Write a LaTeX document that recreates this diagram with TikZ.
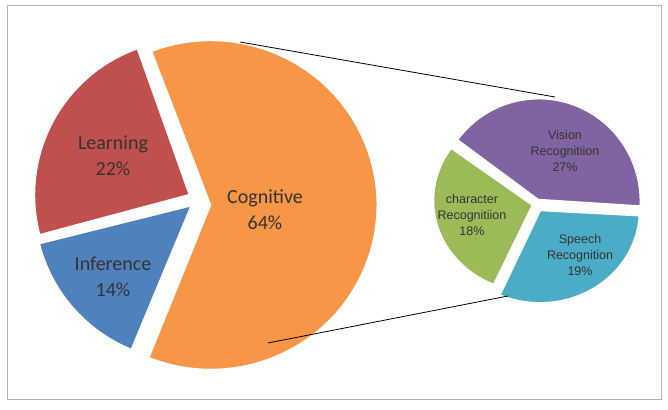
\documentclass[tikz,border=0pt]{standalone}
\usepackage{fontspec}
\setmainfont{Carlito}
\newfontfamily\arialfont{Liberation Sans}
\usepackage{xcolor}
\usetikzlibrary{positioning}
\definecolor{learnred}{HTML}{C0504D}
\definecolor{infblue}{HTML}{4F81BD}
\definecolor{cogorange}{HTML}{F79646}
\definecolor{vispurple}{HTML}{8064A2}
\definecolor{chargreen}{HTML}{9BBB59}
\definecolor{speechteal}{HTML}{4BACC6}
\definecolor{labelgray}{HTML}{333333}
\begin{document}
\begin{tikzpicture}[x=1pt, y=1pt,
	slice/.style={draw=white, line width=2.5pt, line join=round},
	biglabel/.style={font=\fontsize{20}{26}\selectfont, text=labelgray, align=center},
	smalllabel/.style={font=\arialfont\fontsize{12.5}{16}\selectfont, text=labelgray, align=center}]
	\useasboundingbox (0,0) rectangle (668,409);
	\draw[gray!60, line width=1pt] (7,10) rectangle (661,403);
	% left pie
	\fill[learnred, slice] (190,214) -- ++(109.6:156) arc[start angle=109.6, end angle=195, radius=156] -- cycle;
	\fill[infblue, slice] (192,204) -- ++(194:158) arc[start angle=194, end angle=248, radius=156] -- cycle;
	\fill[cogorange, slice] (210,204) -- ++(111:165) arc[start angle=111, end angle=-112, x radius=167, y radius=165] -- cycle;
	% right pie
	\fill[vispurple, slice] (538,209) -- ++(143.5:101) arc[start angle=143.5, end angle=-3, x radius=102, y radius=103] -- cycle;
	\fill[chargreen, slice] (533,204) -- ++(145:100) arc[start angle=145, end angle=247, x radius=100, y radius=92] -- cycle;
	\fill[speechteal, slice] (540,199) -- ++(-3:100) arc[start angle=-3, end angle=-114, x radius=100, y radius=93] -- cycle;
	% connectors
	\coordinate (cogtop) at (240,367);
	\coordinate (cogbot) at (268,66);
	\coordinate (pietop) at (555,312);
	\coordinate (piebot) at (508,113);
	\draw[black, line width=0.8pt] (cogtop) -- (pietop);
	\draw[black, line width=0.8pt] (cogbot) -- (piebot);
	% labels
	\node[biglabel] (learn) at (113,253) {Learning\\22\%};
	\node[biglabel] (infer) at (113,132) {Inference\\14\%};
	\node[biglabel] (cogn) at (265,199) {Cognitive\\64\%};
	\node[smalllabel] (vision) at (565,258) {Vision\\Recognitiion\\27\%};
	\node[smalllabel] (charac) at (472,194) {character\\Recognitiion\\18\%};
	\node[smalllabel] (speech) at (580,154) {Speech\\Recognition\\19\%};
\end{tikzpicture}
\end{document}
